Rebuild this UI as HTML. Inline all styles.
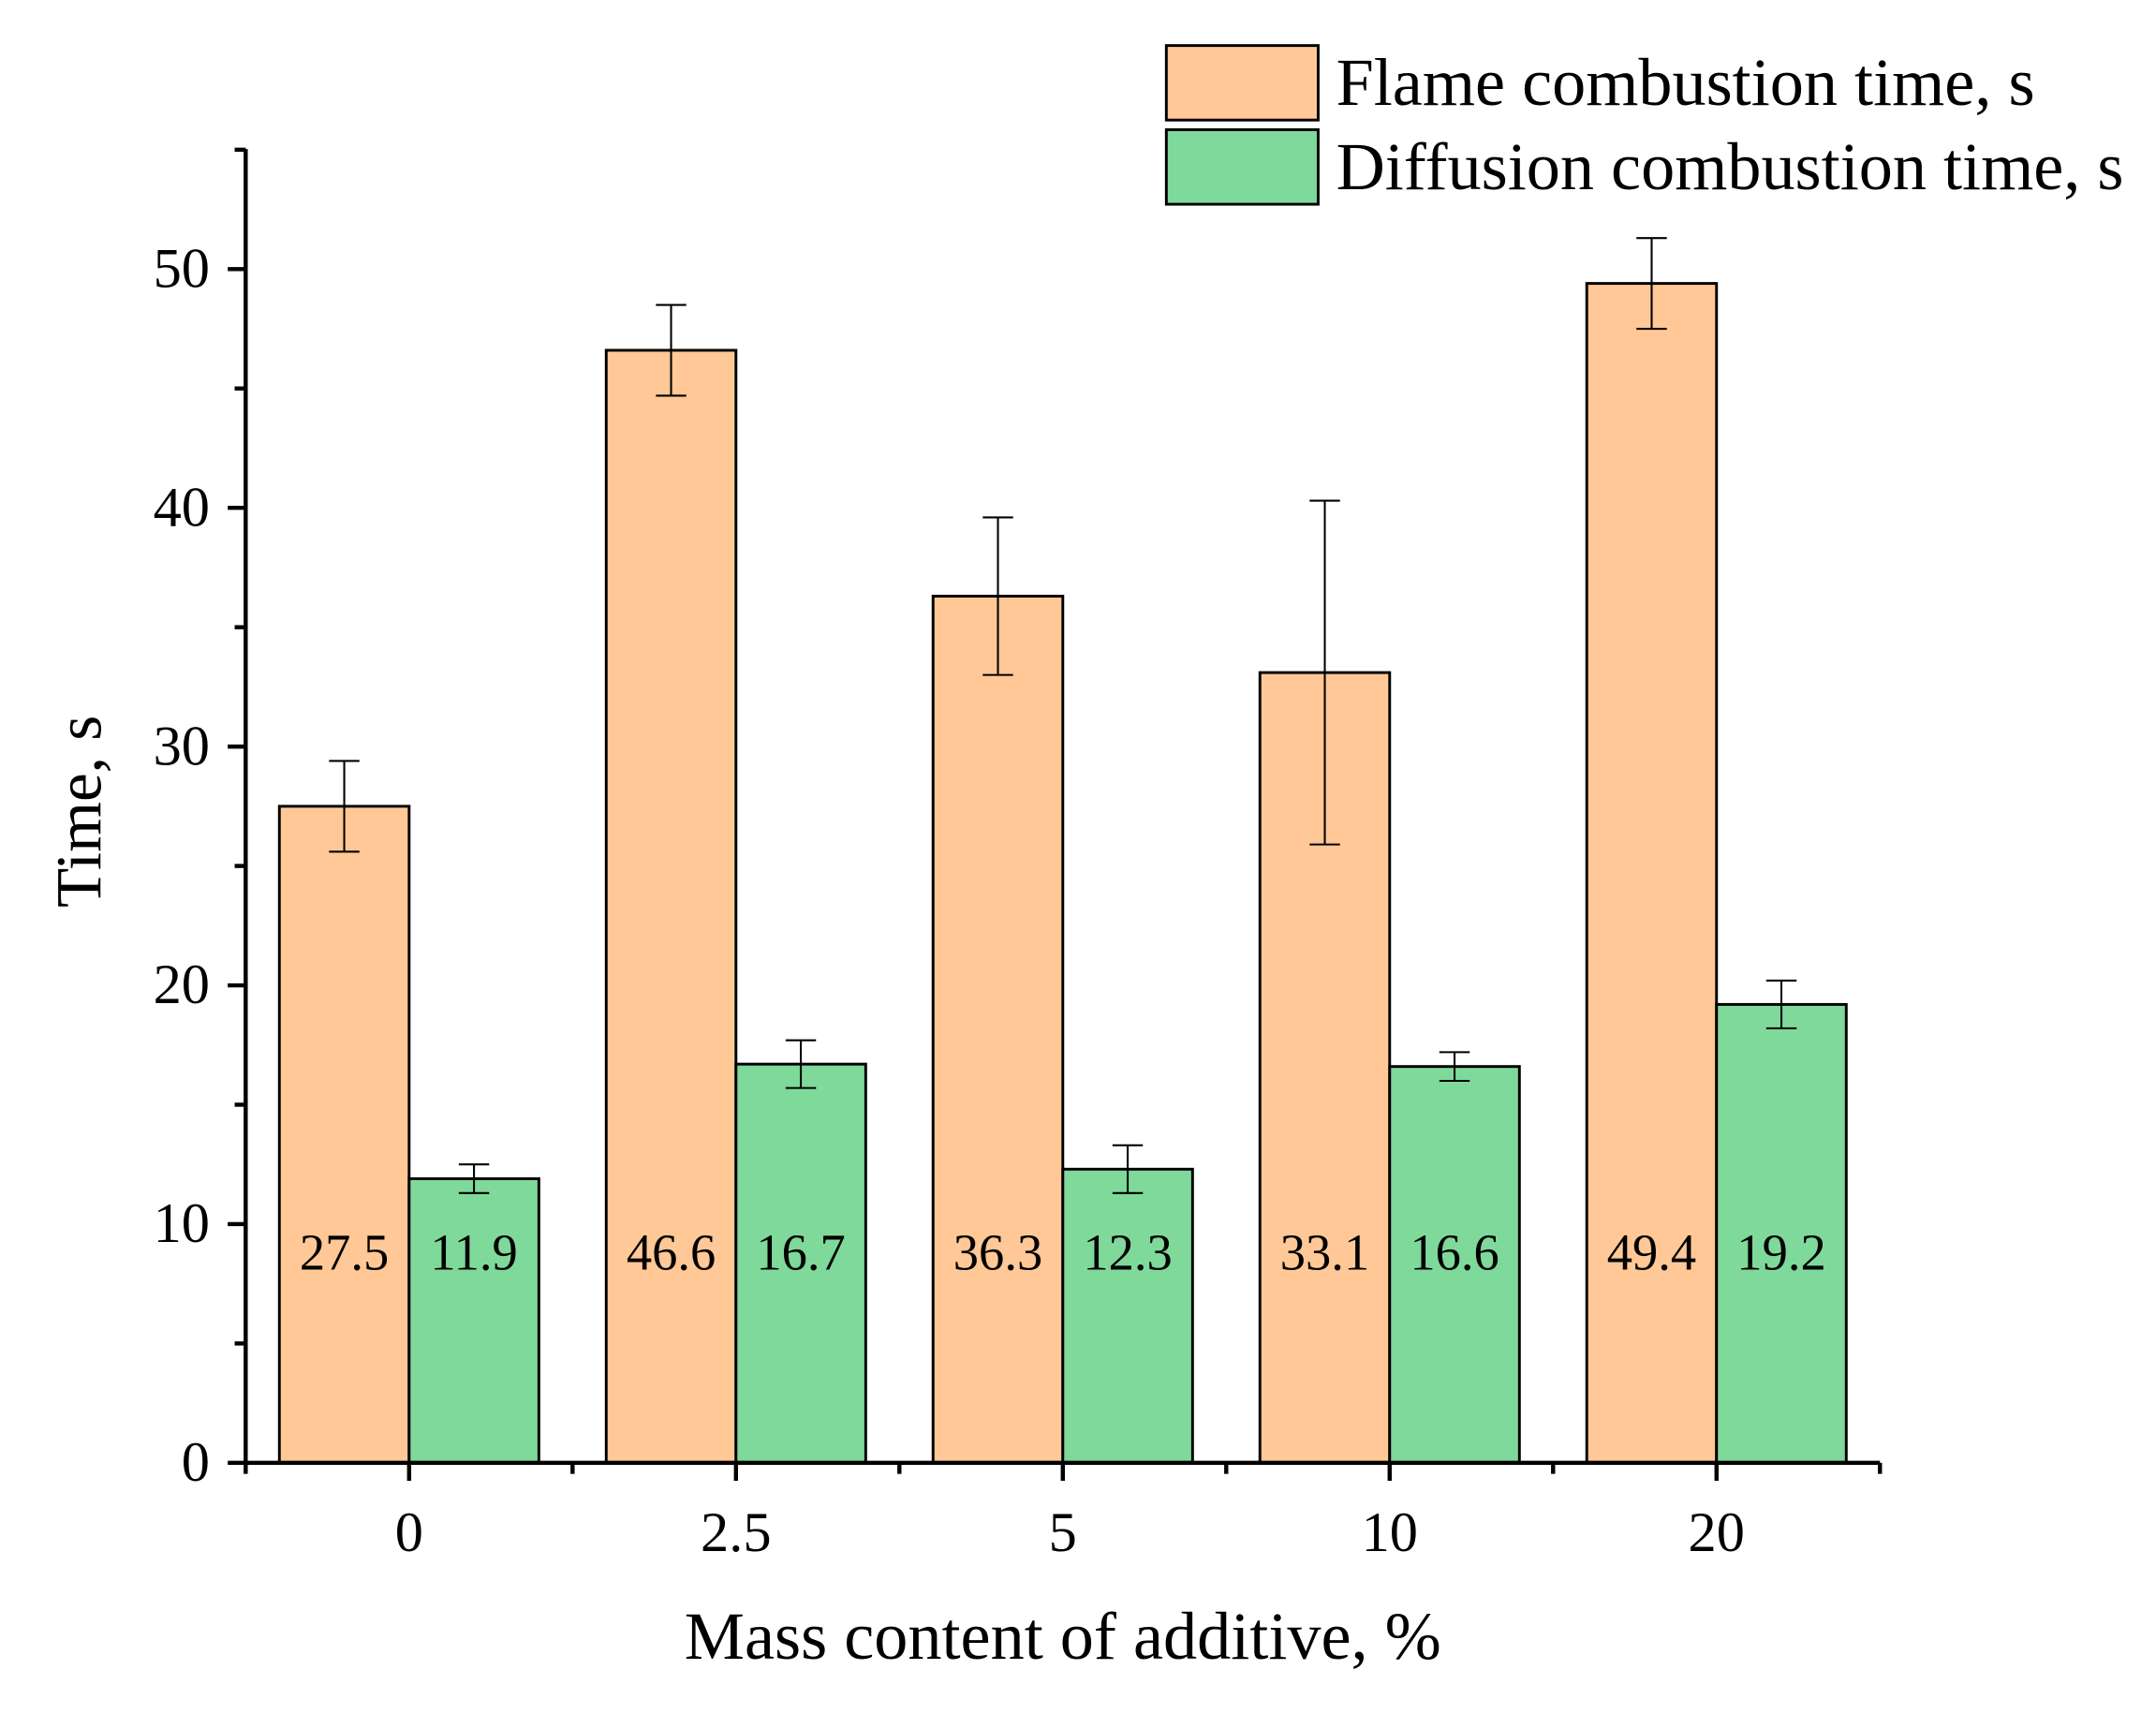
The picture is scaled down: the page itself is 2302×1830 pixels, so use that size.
<!DOCTYPE html>
<html><head><meta charset="utf-8"><style>
html,body{margin:0;padding:0;background:#fff;}
svg{display:block;}
text{font-family:"Liberation Serif",serif;fill:#000;}
</style></head><body>
<svg id="chart" width="2302" height="1830" viewBox="0 0 1562 1242" preserveAspectRatio="none">
<rect width="1562" height="1242" fill="#fff"/>
<g id="bars"></g>
<g id="axes"></g>
<text x="770" y="1202" font-size="49" text-anchor="middle">Mass content of additive, %</text>
<text transform="translate(73,588) rotate(-90)" font-size="47" text-anchor="middle">Time, s</text>
<g>
<rect x="845" y="33" width="110" height="54" fill="#FFC896" stroke="#000" stroke-width="2"/>
<text x="968" y="76" font-size="49">Flame combustion time, s</text>
<rect x="845" y="94" width="110" height="54" fill="#7FD99A" stroke="#000" stroke-width="2"/>
<text x="968" y="137" font-size="49">Diffusion combustion time, s</text>
</g>
</svg>
<script>
const categories = ["0","2.5","5","10","20"];
const flame = [27.5,46.6,36.3,33.1,49.4];
const flameErr = [1.9,1.9,3.3,7.2,1.9];
const diffusion = [11.9,16.7,12.3,16.6,19.2];
const diffusionErr = [0.6,1.0,1.0,0.6,1.0];
const yTicks = [0,10,20,30,40,50];

const NS="http://www.w3.org/2000/svg";
const x0=178, x1=1362, y0=1060, y50=195;
const bw=94;
function yS(v){return y0-(y0-y50)*v/50;}
function xC(i){return x0+(x1-x0)/categories.length*(i+0.5);}
function mk(tag,attrs,parent){const e=document.createElementNS(NS,tag);for(const k in attrs)e.setAttribute(k,attrs[k]);parent.appendChild(e);return e;}
const bars=document.getElementById('bars'), axes=document.getElementById('axes');

function drawBar(i,v,err,left,fill,name){
  const top=yS(v);
  const r=mk('rect',{x:left,y:top,width:bw,height:y0-top,fill:fill,stroke:'#000','stroke-width':2},bars);
  
  
  const cx=left+bw/2;
  const g=mk('g',{stroke:'#000','stroke-width':1.4},bars);
  
  
  mk('line',{x1:cx,x2:cx,y1:yS(v+err),y2:yS(v-err)},g);
  mk('line',{x1:cx-11,x2:cx+11,y1:yS(v+err),y2:yS(v+err)},g);
  mk('line',{x1:cx-11,x2:cx+11,y1:yS(v-err),y2:yS(v-err)},g);
  const t=mk('text',{x:cx,y:920,'font-size':37,'text-anchor':'middle'},bars);
  t.textContent=v.toFixed(1);
  
  
}
categories.forEach((c,i)=>{
  const cx=xC(i);
  drawBar(i,flame[i],flameErr[i],cx-bw,'#FFC896','flame');
  drawBar(i,diffusion[i],diffusionErr[i],cx,'#7FD99A','diffusion');
  const t=mk('text',{x:cx,y:1124,'font-size':41,'text-anchor':'middle'},axes);
  t.textContent=c;
  
  
  mk('line',{x1:cx,x2:cx,y1:y0,y2:y0+13,stroke:'#000','stroke-width':3},axes);
});
for(let i=0;i<=categories.length;i++){
  const x=x0+(x1-x0)/categories.length*i;
  mk('line',{x1:x,x2:x,y1:y0,y2:y0+8,stroke:'#000','stroke-width':3},axes);
}
for(let v=0;v<=55;v+=5){
  const major=v%10===0;
  mk('line',{x1:x0-(major?13:8),x2:x0,y1:yS(v),y2:yS(v),stroke:'#000','stroke-width':3},axes);
}
yTicks.forEach(v=>{
  const t=mk('text',{x:x0-26,y:yS(v)+13,'font-size':41,'text-anchor':'end'},axes);
  t.textContent=v;
  
  
});
const ya=mk('line',{x1:x0,x2:x0,y1:108,y2:y0+1.5,stroke:'#000','stroke-width':3},axes);


const xa=mk('line',{x1:x0-1.5,x2:x1,y1:y0,y2:y0,stroke:'#000','stroke-width':3},axes);


</script>
</body></html>
